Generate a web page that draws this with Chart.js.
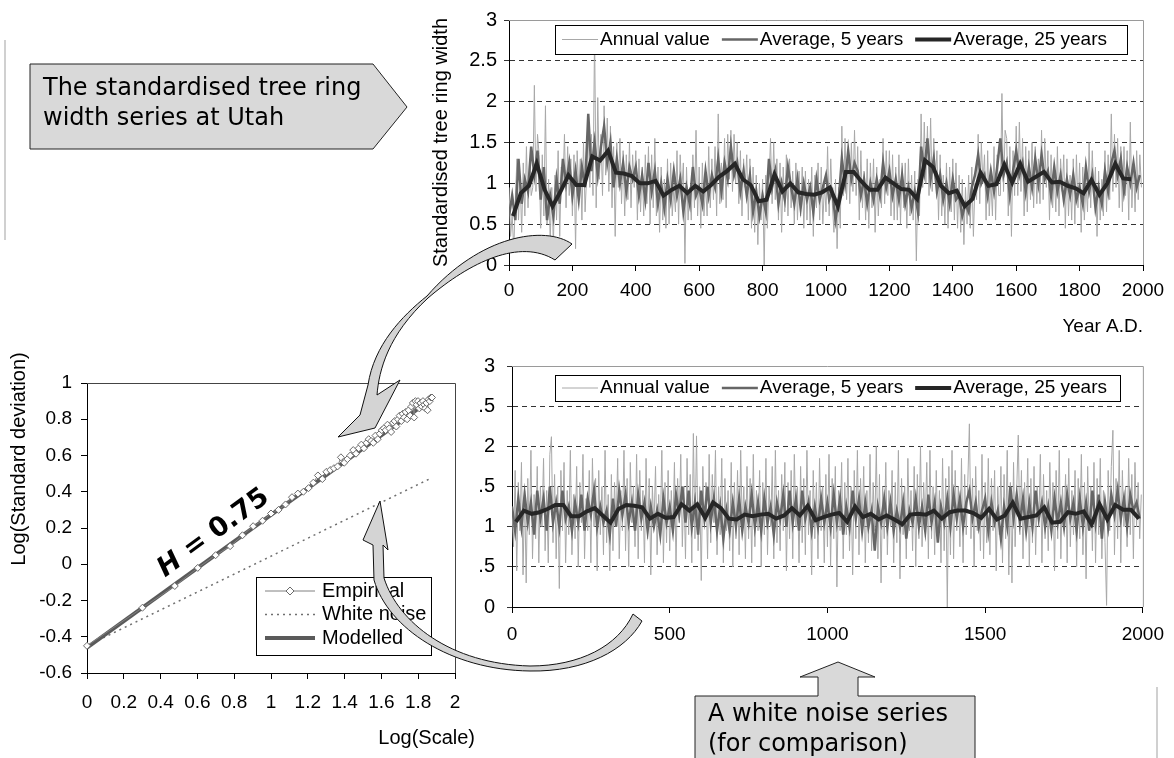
<!DOCTYPE html>
<html>
<head>
<meta charset="utf-8">
<script src="https://cdn.jsdelivr.net/npm/chart.js@4.4.1/dist/chart.umd.min.js"></script>
<style>
  html, body { margin: 0; padding: 0; background: #fff; width: 1174px; height: 758px; overflow: hidden; }
  .box { position: absolute; }
  #overlay { position: absolute; left: 0; top: 0; z-index: 5; pointer-events: none; }
</style>
</head>
<body>
<div class="box" style="left:420px;top:0;width:754px;height:340px"><canvas id="topChart"></canvas></div>
<div class="box" style="left:420px;top:340px;width:754px;height:310px"><canvas id="noiseChart"></canvas></div>
<div class="box" style="left:0;top:360px;width:480px;height:398px"><canvas id="logChart"></canvas></div>

<svg id="overlay" width="1174" height="758">
  <line x1="5" y1="40" x2="5" y2="240" stroke="#d0d0d0" stroke-width="2"/>
  <line x1="1157" y1="687" x2="1157" y2="758" stroke="#d0d0d0" stroke-width="2"/>
  <polygon points="30,64 373,64 407,107 373,149 30,149" fill="#d9d9d9" stroke="#222" stroke-width="1"/>
  <text x="43" y="95" font-family="DejaVu Sans" font-size="24" fill="#000">The standardised tree ring</text>
  <text x="43" y="125" font-family="DejaVu Sans" font-size="24" fill="#000">width series at Utah</text>
  <polygon points="695,696 818,696 818,677 800,677 838,662 875,677 858,677 858,696 975,696 975,762 695,762" fill="#d9d9d9" stroke="#222" stroke-width="1"/>
  <text x="708" y="721" font-family="DejaVu Sans" font-size="24" fill="#000">A white noise series</text>
  <text x="708" y="751" font-family="DejaVu Sans" font-size="24" fill="#000">(for comparison)</text>
  <path d="M 572 244 C 545 225, 480 235, 427 296 C 402 316, 374 345, 368 385 L 360 415 L 338 437 L 375 428 L 400 380 L 377 395 C 379 370, 388 335, 428 298 C 470 262, 520 238, 555 260 Z" fill="#d4d4d4" stroke="#111" stroke-width="1"/>
  <path d="M 633 614 C 618 646, 580 666, 530 666 C 450 664, 398 622, 384 578 L 383 545 L 388 550 L 380 501 L 363 540 L 373 545 L 374 580 C 388 628, 450 670, 530 671 C 585 672, 626 650, 642 621 Z" fill="#d4d4d4" stroke="#111" stroke-width="1"/>
  <text transform="translate(212,531) rotate(-36)" text-anchor="middle" dominant-baseline="central" font-family="DejaVu Sans" font-weight="bold" font-size="27" fill="#000"><tspan font-style="italic">H</tspan> = 0.75</text>
  <text x="475" y="744" text-anchor="end" font-family="Liberation Sans, Arial, sans-serif" font-size="20" fill="#000">Log(Scale)</text>
  <text transform="translate(25,459) rotate(-90)" text-anchor="middle" font-family="Liberation Sans, Arial, sans-serif" font-size="20" fill="#000">Log(Standard deviation)</text>
</svg>

<script>
// Utah tree ring widths, annual values sampled every 5 years (0 .. 1995)
const topAnnual = [
  0.95,0.35,0.62,0.18,0.80, 1.30,0.55,1.05,0.40,1.25, 0.60,1.45,0.70,1.30,0.85, 0.95,2.20,0.90,1.60,1.35,
  0.45,1.35,0.60,1.95,0.50, 1.05,0.30,0.95,0.25,1.10, 0.55,1.40,0.35,1.20,0.95, 1.60,0.70,1.45,0.85,1.30,
  0.60,1.35,0.20,1.40,0.90, 1.30,0.55,1.50,0.65,1.10, 1.65,0.95,1.60,0.85,2.85, 0.70,2.05,1.05,1.60,0.85,
  1.95,1.10,1.80,0.90,1.70, 0.70,1.45,0.35,1.50,0.95, 1.55,0.75,1.40,0.60,1.35, 0.80,1.50,0.70,1.35,0.95,
  1.40,0.55,1.30,0.65,1.20, 0.60,1.35,0.75,1.45,0.50, 1.35,0.70,1.55,0.60,1.20, 0.40,1.20,0.55,1.05,0.45,
  1.30,0.50,1.25,0.60,0.95, 0.65,1.40,0.50,1.35,0.90, 1.25,0.02,1.20,0.55,0.95, 0.55,1.35,0.70,1.65,0.60,
  1.20,0.45,1.25,0.60,1.00, 0.60,1.45,0.70,1.30,0.80, 1.45,0.60,1.85,0.75,1.25, 0.80,1.55,0.70,1.60,1.05,
  1.65,0.90,1.60,1.00,1.50, 0.75,1.40,0.60,1.30,0.95, 1.35,0.55,1.30,0.45,1.20, 0.40,1.10,0.25,1.00,0.55,
  1.05,0.00,1.10,0.45,1.00, 1.55,0.75,1.50,0.80,1.30, 0.55,1.25,0.40,1.20,0.65, 1.35,0.60,1.30,0.70,1.15,
  0.50,1.25,0.55,1.15,0.60, 1.20,0.45,1.15,0.55,1.05, 0.50,1.20,0.35,1.10,0.70, 1.25,0.55,1.20,0.50,1.00,
  0.65,1.45,0.60,1.30,0.75, 0.40,1.05,0.20,0.95,0.45, 1.70,0.85,1.55,0.80,1.40, 0.75,1.50,0.90,1.65,0.85,
  1.45,0.55,1.40,0.70,1.15, 0.55,1.30,0.45,1.25,0.70, 1.30,0.40,1.20,0.60,1.05, 0.70,1.55,0.75,1.40,0.85,
  1.40,0.60,1.35,0.55,1.20, 0.55,1.35,0.50,1.25,0.70, 1.25,0.45,1.30,0.60,1.10, 0.55,1.15,0.05,1.05,0.60,
  1.85,0.95,1.75,1.00,1.70, 0.85,1.80,0.90,1.55,1.05, 1.40,0.55,1.35,0.60,1.10, 0.50,1.25,0.45,1.20,0.65,
  1.30,0.55,1.25,0.45,1.10, 0.40,1.05,0.25,0.95,0.50, 1.10,0.45,1.20,0.35,1.00, 0.80,1.60,0.75,1.50,1.00,
  1.35,0.55,1.40,0.60,1.05, 0.60,1.45,0.55,1.35,0.85, 0.85,2.10,0.90,1.65,1.55, 0.60,1.45,0.35,1.40,0.85,
  1.70,0.85,1.75,0.90,1.55, 0.60,1.45,0.65,1.40,0.80, 1.50,0.70,1.45,0.75,1.30, 0.75,1.65,0.80,1.55,0.95,
  1.40,0.55,1.35,0.70,1.15, 0.65,1.45,0.60,1.30,0.90, 1.35,0.45,1.30,0.60,1.10, 0.55,1.30,0.50,1.35,0.70,
  1.25,0.40,1.20,0.55,1.00, 0.65,1.50,0.70,1.40,0.85, 1.20,0.35,1.15,0.55,1.05, 0.60,1.40,0.65,1.35,0.80,
  1.85,0.90,1.60,0.95,1.55, 0.70,1.45,0.65,1.45,0.85, 1.40,0.55,1.75,0.70,1.25, 0.65,1.40,0.80,1.35,0.95
];
// 5-year average, every 10 years
const topAvg5 = [
  0.60,0.85,0.55,1.30,0.75,1.05,0.90,1.45,1.10,1.40,
  0.80,1.20,0.55,0.85,0.60,1.05,0.75,1.30,1.00,1.25,
  0.85,1.15,0.80,1.20,0.95,1.85,1.15,1.50,1.10,1.45,
  1.70,1.25,1.50,0.95,1.30,1.00,1.25,0.90,1.20,1.05,
  1.20,0.85,1.10,0.80,1.25,0.90,1.15,0.75,1.00,0.70,
  1.05,0.80,1.15,0.85,1.05,0.65,0.95,0.75,1.20,0.85,
  0.95,0.75,1.15,0.85,1.10,0.95,1.30,0.90,1.25,1.05,
  1.45,1.10,1.25,0.90,1.15,0.85,1.10,0.65,0.90,0.60,
  0.85,0.65,1.30,0.95,1.15,0.75,1.00,0.80,1.20,0.95,
  0.75,1.05,0.70,1.00,0.80,0.95,0.65,1.05,0.80,0.95,
  1.10,0.80,0.90,0.55,0.80,1.30,1.00,1.40,1.05,1.25,
  1.15,0.85,1.05,0.75,1.00,0.80,1.05,0.85,1.25,0.95,
  1.15,0.85,1.05,0.80,1.10,0.75,0.95,0.70,0.90,0.65,
  1.45,1.15,1.55,1.05,1.30,0.90,1.10,0.80,1.00,0.75,
  1.05,0.80,0.85,0.60,0.75,0.65,0.95,1.10,1.35,1.00,
  1.10,0.85,1.15,0.90,1.20,1.55,1.10,1.25,0.85,1.15,
  1.40,1.10,1.25,0.90,1.20,0.95,1.30,1.00,1.35,1.05,
  1.15,0.85,1.20,0.90,1.10,0.80,1.05,0.85,1.10,0.80,
  0.95,0.75,1.20,0.90,1.10,0.70,0.95,0.75,1.15,0.90,
  1.25,1.40,1.10,1.30,0.90,1.20,1.00,1.25,0.95,1.10
];
// 25-year average, centred on 12.5, 37.5, ...
const topAvg25 = [
  0.60,0.88,0.97,1.24,0.92,0.72,0.90,1.10,0.98,0.98,
  1.33,1.28,1.40,1.13,1.12,1.09,1.00,1.00,1.03,0.85,
  0.92,0.97,0.88,0.97,0.90,0.98,1.08,1.15,1.24,1.05,
  0.98,0.78,0.80,1.11,0.90,1.00,0.89,0.87,0.86,0.89,
  0.95,0.72,1.14,1.14,1.02,0.92,0.92,1.07,1.00,0.93,
  0.92,0.81,1.28,1.20,0.97,0.88,0.91,0.72,0.81,1.13,
  0.97,0.99,1.23,1.01,1.24,1.02,1.08,1.14,1.01,1.02,
  0.97,0.94,0.88,1.04,0.86,1.00,1.24,1.06,1.05
];

// white noise series, same sampling
const noiseAnnual = [
  1.25,0.75,1.70,0.45,1.55,0.95,1.80,0.40,1.45,0.30, 1.60,0.90,1.95,0.60,1.40,0.85,1.75,0.55,1.50,1.00,
  1.85,0.70,1.45,0.55,1.90,2.12,0.80,1.65,0.60,1.50, 0.23,1.70,0.95,1.80,0.55,1.45,0.90,1.95,0.65,1.40,
  0.85,1.75,0.50,1.55,1.05,1.90,0.60,1.35,0.95,1.70, 0.55,1.85,1.00,1.60,0.45,1.70,0.90,1.50,0.65,1.95,
  0.80,1.40,0.45,1.65,0.70,1.55,1.00,1.85,0.60,1.45, 0.95,1.95,0.70,1.60,0.50,1.80,1.05,1.50,0.75,1.90,
  0.60,1.70,0.95,1.45,0.55,1.85,0.85,1.60,0.40,1.50, 1.00,1.75,0.65,1.40,0.90,1.95,0.55,1.55,0.80,1.70,
  0.70,1.45,0.95,1.80,0.50,1.60,1.05,1.90,0.75,1.50, 0.60,1.85,0.90,1.65,0.55,2.16,0.85,2.13,0.70,1.50,
  0.33,1.75,1.00,1.55,0.60,1.90,0.80,1.65,1.05,1.95, 0.65,1.50,0.90,1.85,0.55,1.60,0.95,1.45,0.70,1.80,
  0.50,1.55,0.85,1.70,0.65,1.95,1.00,1.50,0.60,1.75, 0.85,1.60,0.55,1.90,0.75,1.45,0.95,1.70,0.50,1.55,
  0.90,1.85,0.65,1.50,1.00,1.75,0.60,1.95,0.80,1.45, 0.70,1.65,0.95,1.80,0.45,1.55,0.85,1.70,0.60,1.90,
  1.00,1.50,0.55,1.75,0.80,1.60,0.65,1.95,0.90,1.45, 0.40,1.70,0.85,1.55,0.60,1.85,0.95,1.50,0.55,1.65,
  0.75,1.90,0.50,1.60,0.85,1.75,0.25,1.45,0.95,1.80, 0.60,1.55,0.90,1.85,0.70,1.50,0.40,1.70,0.85,1.95,
  0.65,1.60,1.00,1.75,0.55,1.45,0.80,1.90,0.70,1.55, 0.95,2.00,0.60,1.65,0.30,1.50,0.85,1.80,0.65,1.45,
  1.00,1.70,0.55,1.55,0.80,1.95,0.35,1.60,0.90,1.50, 0.60,1.85,0.95,1.45,0.70,1.75,0.50,1.65,0.85,2.00,
  0.75,1.55,1.05,1.80,0.60,1.95,0.85,1.50,0.65,1.70, 0.90,1.45,0.55,1.85,0.70,1.60,0.00,1.75,0.65,1.95,
  0.60,1.70,0.95,1.50,0.75,1.85,0.55,1.65,0.90,1.55, 2.28,0.85,1.60,0.50,1.75,0.95,1.45,0.70,1.90,0.60,
  1.55,0.80,1.85,0.65,1.60,0.95,1.70,0.45,1.50,0.90, 1.75,0.55,1.65,0.85,1.95,0.40,1.55,0.30,1.80,0.75,
  1.45,2.14,0.90,1.70,0.60,1.55,0.95,1.85,0.50,1.60, 0.80,1.75,0.65,1.50,1.00,1.90,0.55,1.65,0.85,1.45,
  0.70,1.80,0.95,1.55,0.45,1.70,0.85,1.95,0.60,1.50, 1.00,1.65,0.55,1.85,0.75,1.45,0.90,1.70,0.50,1.60,
  0.85,1.90,0.65,1.55,0.35,1.75,0.95,1.50,0.70,1.80, 0.55,1.60,0.90,1.85,0.60,1.45,0.80,0.02,1.70,0.95,
  1.75,2.20,0.65,1.60,0.85,1.95,0.55,1.70,1.00,1.50, 0.75,1.85,0.90,1.65,0.60,1.80,1.00,1.55,0.85,1.40
];
const noiseAvg5 = [
  1.25,0.95,1.35,1.00,1.40,1.05,1.30,0.90,1.45,1.10,
  1.35,0.95,1.50,1.05,1.30,1.00,1.45,1.10,1.25,0.95,
  1.30,1.05,1.40,0.95,1.35,1.15,1.45,1.00,1.25,1.05,
  1.20,0.90,1.35,1.00,1.45,1.15,1.40,1.05,1.30,0.95,
  1.40,1.10,1.30,0.95,1.25,1.00,1.20,0.90,1.35,1.05,
  1.25,0.95,1.40,1.15,1.50,1.05,1.45,1.00,1.30,0.90,
  1.45,1.10,1.50,1.05,1.35,0.95,1.25,0.85,1.20,0.95,
  1.30,1.00,1.35,0.95,1.25,1.05,1.40,1.00,1.30,0.95,
  1.35,1.05,1.25,0.90,1.30,1.10,1.40,1.00,1.45,1.05,
  1.35,0.95,1.45,1.10,1.30,0.95,1.25,1.00,1.35,1.05,
  1.30,1.00,1.40,1.05,1.35,0.90,1.25,1.00,1.45,1.10,
  1.35,0.95,1.30,1.00,1.20,0.70,1.25,1.05,1.35,1.00,
  1.30,0.95,1.20,1.00,1.30,0.85,1.20,1.05,1.35,1.00,
  1.25,0.95,1.40,1.05,1.30,0.80,1.25,1.05,1.35,1.00,
  1.40,1.10,1.35,1.00,1.30,1.45,1.10,1.30,1.00,1.20,
  1.35,0.95,1.30,1.05,1.20,0.85,1.25,1.00,1.50,1.10,
  1.40,1.05,1.35,0.95,1.30,1.00,1.45,1.10,1.30,1.00,
  1.25,0.95,1.35,1.05,1.30,1.00,1.40,1.10,1.30,0.95,
  1.35,1.00,1.30,0.95,1.45,1.05,1.40,0.85,1.30,1.00,
  1.40,1.15,1.45,1.10,1.35,1.00,1.40,1.20,1.30,1.10
];
const noiseAvg25 = [
  1.06,1.20,1.16,1.18,1.22,1.27,1.27,1.13,1.13,1.19,
  1.23,1.14,1.05,1.22,1.27,1.26,1.24,1.10,1.16,1.11,
  1.12,1.28,1.20,1.28,1.11,1.30,1.23,1.10,1.09,1.15,
  1.13,1.15,1.16,1.10,1.14,1.23,1.14,1.26,1.08,1.12,
  1.15,1.17,1.06,1.25,1.12,1.16,1.09,1.14,1.09,1.03,
  1.15,1.16,1.15,1.20,1.10,1.18,1.20,1.20,1.17,1.11,
  1.22,1.09,1.14,1.30,1.10,1.12,1.14,1.24,1.05,1.06,
  1.18,1.16,1.19,1.03,1.28,1.09,1.27,1.21,1.21,1.10
];
const noiseYTickLabels = ['0', '.5', '1', '.5', '2', '.5', '3'];

// log-log plot
const empLogScale = [0, 0.301, 0.477, 0.602, 0.699, 0.778, 0.845, 0.903, 0.954, 1.0,
  1.041, 1.079, 1.114, 1.146, 1.176, 1.204, 1.23, 1.255, 1.279, 1.301,
  1.322, 1.342, 1.362, 1.38, 1.398, 1.415, 1.431, 1.447, 1.462, 1.477,
  1.491, 1.505, 1.519, 1.531, 1.544, 1.556, 1.568, 1.58, 1.591, 1.602,
  1.613, 1.623, 1.633, 1.643, 1.653, 1.663, 1.672, 1.681, 1.69, 1.699,
  1.708, 1.716, 1.724, 1.732, 1.74, 1.748, 1.756, 1.763, 1.771, 1.778,
  1.785, 1.792, 1.799, 1.806, 1.813, 1.82, 1.826, 1.833, 1.839, 1.845,
  1.851, 1.857, 1.863, 1.869, 1.875];
const empLogSd = [-0.45, -0.24, -0.12, -0.02, 0.05, 0.10, 0.16, 0.21, 0.24, 0.28,
  0.30, 0.33, 0.37, 0.39, 0.40, 0.42, 0.45, 0.49, 0.47, 0.51,
  0.52, 0.53, 0.54, 0.59, 0.56, 0.58, 0.60, 0.63, 0.61, 0.64,
  0.66, 0.64, 0.67, 0.69, 0.68, 0.67, 0.71, 0.69, 0.72, 0.74,
  0.75, 0.74, 0.77, 0.75, 0.73, 0.78, 0.79, 0.76, 0.80, 0.82,
  0.79, 0.83, 0.81, 0.84, 0.80, 0.85, 0.82, 0.87, 0.89, 0.81,
  0.90, 0.88, 0.90, 0.86, 0.89, 0.87, 0.90, 0.88, 0.86, 0.89,
  0.85, 0.91, 0.90, 0.92, 0.92];
const whiteLogScale = [0, 1.87];
const whiteLogSd = [-0.45, 0.475];
const modelLogScale = [0, 1.87];
const modelLogSd = [-0.46, 0.91];

const FONT = 'Liberation Sans, Arial, sans-serif';
Chart.defaults.font.family = FONT;
Chart.defaults.color = '#000';
Chart.defaults.animation = false;

function xy(xs, ys) { return ys.map((v, i) => ({ x: xs[i], y: v })); }
function everyYears(n, step, start) { const a = []; for (let i = 0; i < n; i++) a.push(start + i * step); return a; }
// plain number, no thousands separator, no trailing ".0"
function plain(v) { return String(Math.round(v * 100) / 100); }

// grey frame on top and right side of the plot
const frame = {
  id: 'frame',
  beforeDatasetsDraw(chart, args, o) {
    if (!o.color) return;
    const a = chart.chartArea, ctx = chart.ctx;
    ctx.save();
    ctx.strokeStyle = o.color; ctx.lineWidth = 1;
    ctx.beginPath();
    ctx.moveTo(a.left, a.top + 0.5); ctx.lineTo(a.right + 0.5, a.top + 0.5); ctx.lineTo(a.right + 0.5, a.bottom);
    ctx.stroke();
    ctx.restore();
  }
};

// legend with a border, drawn inside the plot
const boxLegend = {
  id: 'boxLegend',
  afterDraw(chart, args, o) {
    if (!o.box) return;
    const ctx = chart.ctx, b = o.box;
    ctx.save();
    ctx.fillStyle = '#fff';
    ctx.fillRect(b.x, b.y, b.w, b.h);
    ctx.strokeStyle = '#000'; ctx.lineWidth = 1;
    ctx.strokeRect(b.x + 0.5, b.y + 0.5, b.w, b.h);
    ctx.font = o.fontSize + 'px ' + FONT;
    ctx.textBaseline = 'middle';
    let x = b.x + o.padX, y = b.y + o.firstY;
    o.order.forEach(idx => {
      const ds = chart.data.datasets[idx];
      ctx.strokeStyle = ds.borderColor; ctx.lineWidth = ds.borderWidth;
      ctx.setLineDash(ds.borderDash || []);
      ctx.beginPath(); ctx.moveTo(x, y); ctx.lineTo(x + o.sample, y); ctx.stroke();
      ctx.setLineDash([]);
      if (ds.pointStyle === 'rectRot') {
        const cx = x + o.sample / 2, r = 4;
        ctx.fillStyle = '#fff'; ctx.strokeStyle = ds.pointBorderColor; ctx.lineWidth = 1;
        ctx.beginPath(); ctx.moveTo(cx, y - r); ctx.lineTo(cx + r, y); ctx.lineTo(cx, y + r); ctx.lineTo(cx - r, y); ctx.closePath();
        ctx.fill(); ctx.stroke();
      }
      ctx.fillStyle = '#000';
      ctx.fillText(ds.label, x + o.sample + o.textGap, y);
      if (o.vertical) { y += o.rowH; }
      else { x += o.sample + o.textGap + ctx.measureText(ds.label).width + o.itemGap; }
    });
    ctx.restore();
  }
};

function seriesChart(id, annual, avg5, avg25, opts) {
  return new Chart(document.getElementById(id), {
    type: 'line',
    data: {
      datasets: [
        { label: 'Annual value', data: xy(everyYears(annual.length, 5, 0), annual),
          borderColor: '#a8a8a8', borderWidth: 1, pointRadius: 0, order: 3 },
        { label: 'Average, 5 years', data: xy(everyYears(avg5.length, 10, 0), avg5),
          borderColor: '#666666', borderWidth: 2.5, pointRadius: 0, order: 2 },
        { label: 'Average, 25 years', data: xy(everyYears(avg25.length, 25, 12.5), avg25),
          borderColor: '#262626', borderWidth: 4, pointRadius: 0, order: 1 }
      ]
    },
    options: {
      responsive: true,
      maintainAspectRatio: false,
      layout: { padding: opts.padding },
      plugins: {
        legend: { display: false },
        tooltip: { enabled: false },
        frame: { color: '#9a9a9a' },
        boxLegend: { box: opts.legendBox, fontSize: 19, padX: 7, firstY: opts.legendBox.h / 2,
                     sample: 36, textGap: 2, itemGap: 12, order: [0, 1, 2] }
      },
      scales: {
        x: {
          type: 'linear', min: 0, max: 2000,
          afterFit: s => { s.height = opts.xHeight; },
          ticks: { stepSize: opts.xStep, font: { size: 19 }, padding: opts.xPad, maxRotation: 0, callback: plain },
          grid: { drawOnChartArea: false, drawTicks: true, tickLength: 6, color: '#000' },
          border: { color: '#000', width: 1 },
          title: opts.xTitle
        },
        y: {
          min: 0, max: 3,
          afterFit: s => { s.width = opts.yWidth; },
          ticks: { stepSize: 0.5, font: { size: 20 }, padding: opts.yPad, callback: opts.yLabel },
          grid: { color: '#333', tickLength: 5, drawTicks: true },
          border: { color: '#000', width: 1, dash: [5, 4] },
          title: opts.yTitle
        }
      }
    },
    plugins: [frame, boxLegend]
  });
}

seriesChart('topChart', topAnnual, topAvg5, topAvg25, {
  padding: { left: 0, top: 20, right: 31, bottom: 0 },
  xHeight: 75, yWidth: 89, xStep: 200, xPad: 8, yPad: 7,
  legendBox: { x: 135, y: 25, w: 572, h: 29 },
  yLabel: plain,
  xTitle: { display: true, text: 'Year A.D.', align: 'end', font: { size: 19 }, padding: { top: 0, bottom: 2 } },
  yTitle: { display: true, text: 'Standardised tree ring width', font: { size: 20 }, padding: { top: 9, bottom: 0 } }
});

seriesChart('noiseChart', noiseAnnual, noiseAvg5, noiseAvg25, {
  padding: { left: 0, top: 26, right: 31, bottom: 0 },
  xHeight: 43, yWidth: 92, xStep: 500, xPad: 10, yPad: 12,
  legendBox: { x: 135, y: 35, w: 565, h: 26 },
  yLabel: v => noiseYTickLabels[Math.round(v * 2)],
  xTitle: { display: false },
  yTitle: { display: false }
});

new Chart(document.getElementById('logChart'), {
  type: 'line',
  data: {
    datasets: [
      { label: 'Empirical', data: xy(empLogScale, empLogSd), borderColor: '#808080', borderWidth: 1,
        pointStyle: 'rectRot', pointRadius: 3.5, pointBackgroundColor: '#fff', pointBorderColor: '#6a6a6a',
        pointBorderWidth: 1, clip: false, order: 1 },
      { label: 'White noise', data: xy(whiteLogScale, whiteLogSd), borderColor: '#6f6f6f', borderWidth: 1.5,
        borderDash: [2, 4], pointRadius: 0, order: 3 },
      { label: 'Modelled', data: xy(modelLogScale, modelLogSd), borderColor: '#5a5a5a', borderWidth: 4,
        pointRadius: 0, order: 2 }
    ]
  },
  options: {
    responsive: true,
    maintainAspectRatio: false,
    layout: { padding: { left: 0, top: 23, right: 25, bottom: 0 } },
    plugins: {
      legend: { display: false },
      tooltip: { enabled: false },
      frame: { color: '#444' },
      boxLegend: { box: { x: 256, y: 217, w: 175, h: 78 }, fontSize: 20, padX: 9, firstY: 14,
                   sample: 50, textGap: 7, rowH: 23.5, vertical: true, order: [0, 1, 2] }
    },
    scales: {
      x: {
        type: 'linear', min: 0, max: 2,
        afterFit: s => { s.height = 85; },
        ticks: { stepSize: 0.2, font: { size: 19 }, padding: 12, maxRotation: 0, autoSkip: false, callback: plain },
        grid: { drawOnChartArea: false, tickLength: 6, color: '#000' },
        border: { color: '#000', width: 1 }
      },
      y: {
        min: -0.6, max: 1,
        afterFit: s => { s.width = 87; },
        ticks: { stepSize: 0.2, font: { size: 19 }, padding: 9, callback: plain },
        grid: { drawOnChartArea: false, tickLength: 6, color: '#000' },
        border: { color: '#000', width: 1 }
      }
    }
  },
  plugins: [frame, boxLegend]
});
</script>
</body>
</html>
